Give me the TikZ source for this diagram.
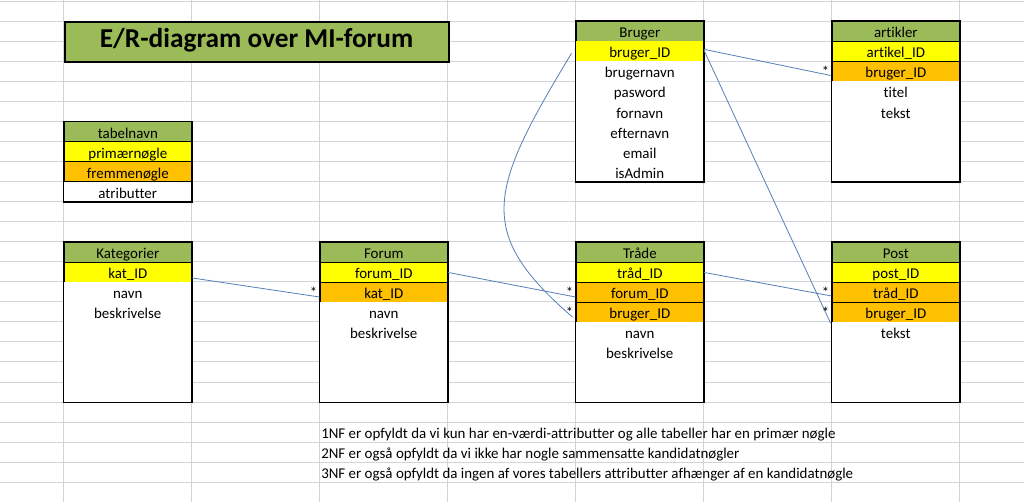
\documentclass[tikz,border=0pt]{standalone}
\usepackage{fontspec}
\setmainfont{Carlito}[Ligatures=NoCommon]
\usetikzlibrary{calc}
\definecolor{hdgreen}{HTML}{9BBB59}
\definecolor{pkyellow}{HTML}{FFFF00}
\definecolor{fkorange}{HTML}{FFC000}
\definecolor{gridgray}{HTML}{D0D5DC}
\definecolor{linkblue}{HTML}{5580B8}
\tikzset{
  cell/.style={rectangle, anchor=north west, minimum width=96pt, minimum height=15.04pt,
    inner sep=0pt, font=\fontsize{11.2}{13}\selectfont, text height=1.15em, text depth=0.17em},
  hdcell/.style={cell, fill=hdgreen, draw=black, line width=0.5pt},
  pkcell/.style={cell, fill=pkyellow, draw=black, line width=0.5pt},
  pkbcell/.style={cell, fill=pkyellow},
  fkcell/.style={cell, fill=fkorange, draw=black, line width=0.5pt},
  atcell/.style={cell, fill=white},
  frame/.style={draw=black, line width=1pt},
  conn/.style={draw=linkblue, line width=0.6pt},
  star/.style={anchor=east, inner sep=0.3pt, xshift=-1.2pt, font=\fontsize{11}{13}\selectfont},
  note/.style={anchor=north west, minimum height=15.04pt, inner sep=0pt,
    font=\fontsize{11.2}{13}\selectfont, text height=1.15em, text depth=0.17em},
  gridline/.style={draw=gridgray, line width=0.6pt}
}
\newcommand\ertab[4]{%
  \foreach [count=\i from 0] \st/\tx in {#4} {
    \node[\st cell] (#1\i) at (#2, {21+20.05*(#3+\i)}) {\tx};
  }%
}
\begin{document}
\begin{tikzpicture}[x=0.75pt, y=-0.75pt]
\useasboundingbox (0,0) rectangle (1024,502);
\fill[white] (0,0) rectangle (1024,502);
% spreadsheet grid
\foreach \k in {-1,...,24} \draw[gridline] (0,{21+20.05*\k}) -- (1024,{21+20.05*\k});
\foreach \k in {0,...,7} \draw[gridline] ({63.5+128*\k},0) -- ({63.5+128*\k},502);
% title
\node[anchor=north west, minimum width=288pt, minimum height=30.08pt, inner sep=0pt,
  fill=hdgreen, draw=black, line width=1.6pt, font=\fontsize{20.5}{24}\selectfont\bfseries,
  text height=0.8em, text depth=0em]
  (title) at (63.5,21) {E/R-diagram over MI-forum};
% tables
\ertab{leg}{63.5}{5}{hd/tabelnavn, pk/primærnøgle, fk/fremmenøgle, at/atributter}
\ertab{bru}{575.5}{0}{hd/Bruger, pkb/bruger\_ID, at/brugernavn, at/pasword, at/fornavn, at/efternavn, at/email, at/isAdmin}
\ertab{art}{831.5}{0}{hd/artikler, pk/artikel\_ID, fk/bruger\_ID, at/titel, at/tekst, at/{}, at/{}, at/{}}
\ertab{kat}{63.5}{11}{hd/Kategorier, pk/kat\_ID, at/navn, at/beskrivelse, at/{}, at/{}, at/{}, at/{}}
\ertab{for}{319.5}{11}{hd/Forum, pk/forum\_ID, fk/kat\_ID, at/navn, at/beskrivelse, at/{}, at/{}, at/{}}
\ertab{tra}{575.5}{11}{hd/Tråde, pk/tråd\_ID, fk/forum\_ID, fk/bruger\_ID, at/navn, at/beskrivelse, at/{}, at/{}}
\ertab{pos}{831.5}{11}{hd/Post, pk/post\_ID, fk/tråd\_ID, fk/bruger\_ID, at/tekst, at/{}, at/{}, at/{}}
\draw[frame] (leg0.north west) rectangle (leg3.south east);
\draw[frame] (bru0.north west) rectangle (bru7.south east);
\draw[frame] (art0.north west) rectangle (art7.south east);
\draw[frame] (kat0.north west) rectangle (kat7.south east);
\draw[frame] (for0.north west) rectangle (for7.south east);
\draw[frame] (tra0.north west) rectangle (tra7.south east);
\draw[frame] (pos0.north west) rectangle (pos7.south east);
% notes
\node[note] (n1) at (321,{21+20.05*20}) {1NF er opfyldt da vi kun har en-værdi-attributter og alle tabeller har en primær nøgle};
\node[note] (n2) at (321,{21+20.05*21}) {2NF er også opfyldt da vi ikke har nogle sammensatte kandidatnøgler};
\node[note] (n3) at (321,{21+20.05*22}) {3NF er også opfyldt da ingen af vores tabellers attributter afhænger af en kandidatnøgle};
% connectors
\draw[conn] ($(kat1.east)+(0,6)$) -- ($(for2.west)+(0,5)$) node[star] at (for2.west) {*};
\draw[conn] ($(for1.east)+(0,0.5)$) -- ($(tra2.west)+(0,5)$) node[star] at (tra2.west) {*};
\draw[conn] ($(tra1.east)+(0,0.5)$) -- ($(pos2.west)+(0,4)$) node[star] at (pos2.west) {*};
\draw[conn] ($(bru1.east)+(0,-2)$) -- ($(art2.west)+(-1,4)$) node[star] at (art2.west) {*};
\draw[conn] ($(bru1.east)+(0,-1)$) -- ($(pos3.west)+(-1,11)$) node[star] at (pos3.west) {*};
\draw[conn] ($(bru1.west)+(-4,2)$) .. controls (489,190) and (474,232) .. ($(tra3.west)+(-3,5)$)
  node[star] at (tra3.west) {*};
\end{tikzpicture}
\end{document}
